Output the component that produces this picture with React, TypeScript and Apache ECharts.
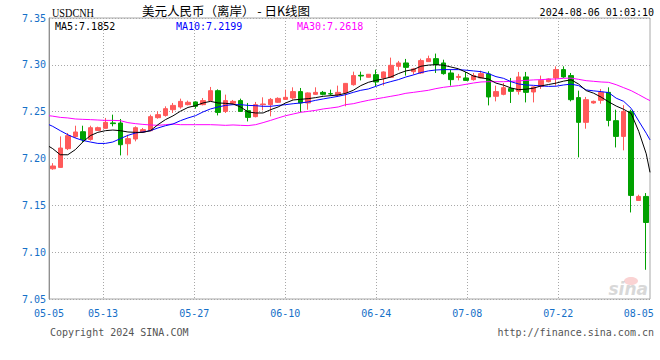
import React, { useEffect, useRef } from 'react';
import * as echarts from 'echarts';

const dates = [
  '05-05', '05-06', '05-07', '05-08', '05-09', '05-10',
  '05-12', '05-13', '05-14', '05-15', '05-16', '05-17',
  '05-19', '05-20', '05-21', '05-22', '05-23', '05-24',
  '05-26', '05-27', '05-28', '05-29', '05-30', '05-31',
  '06-02', '06-03', '06-04', '06-05', '06-06', '06-07',
  '06-09', '06-10', '06-11', '06-12', '06-13', '06-14',
  '06-16', '06-17', '06-18', '06-19', '06-20', '06-21',
  '06-23', '06-24', '06-25', '06-26', '06-27', '06-28',
  '06-30', '07-01', '07-02', '07-03', '07-04', '07-05',
  '07-07', '07-08', '07-09', '07-10', '07-11', '07-12',
  '07-14', '07-15', '07-16', '07-17', '07-18', '07-19',
  '07-21', '07-22', '07-23', '07-24', '07-25', '07-26',
  '07-28', '07-29', '07-30', '07-31', '08-01', '08-02',
  '08-04', '08-05',
];

const openP = [
  7.1890, 7.1905, 7.2105, 7.2233, 7.2286, 7.2204, 7.2300, 7.2322, 7.2380, 7.2379,
  7.2158, 7.2208, 7.2283, 7.2297, 7.2436, 7.2460, 7.2521, 7.2550, 7.2575, 7.2604,
  7.2575, 7.2618, 7.2724, 7.2503, 7.2589, 7.2618, 7.2511, 7.2447, 7.2575, 7.2575,
  7.2600, 7.2631, 7.2646, 7.2714, 7.2593, 7.2685, 7.2706, 7.2692, 7.2678, 7.2700,
  7.2788, 7.2888, 7.2867, 7.2895, 7.2860, 7.2867, 7.2984, 7.3020, 7.2927, 7.2913,
  7.3034, 7.3066, 7.3020, 7.2913, 7.2866, 7.2860, 7.2842, 7.2860, 7.2903, 7.2664,
  7.2685, 7.2746, 7.2717, 7.2871, 7.2710, 7.2770, 7.2820, 7.2860, 7.2949, 7.2885,
  7.2650, 7.2386, 7.2593, 7.2621, 7.2706, 7.2404, 7.2236, 7.2503, 7.1552, 7.1595,
];
const closeP = [
  7.1920, 7.2112, 7.2244, 7.2283, 7.2201, 7.2329, 7.2329, 7.2386, 7.2372, 7.2147,
  7.2212, 7.2329, 7.2308, 7.2447, 7.2468, 7.2532, 7.2567, 7.2610, 7.2600, 7.2557,
  7.2618, 7.2724, 7.2492, 7.2618, 7.2610, 7.2503, 7.2439, 7.2575, 7.2582, 7.2631,
  7.2642, 7.2653, 7.2714, 7.2593, 7.2700, 7.2706, 7.2685, 7.2689, 7.2706, 7.2802,
  7.2885, 7.2881, 7.2899, 7.2817, 7.2924, 7.2995, 7.3020, 7.2973, 7.2956, 7.3045,
  7.3066, 7.3002, 7.2906, 7.2842, 7.2876, 7.2834, 7.2885, 7.2906, 7.2657, 7.2714,
  7.2756, 7.2717, 7.2871, 7.2706, 7.2764, 7.2834, 7.2849, 7.2949, 7.2871, 7.2628,
  7.2386, 7.2628, 7.2610, 7.2706, 7.2407, 7.2236, 7.2503, 7.1606, 7.1595, 7.1317,
];
const lowP = [
  7.1880, 7.1900, 7.2090, 7.2220, 7.2176, 7.2190, 7.2295, 7.2320, 7.2343, 7.2033,
  7.2033, 7.2183, 7.2272, 7.2290, 7.2425, 7.2447, 7.2486, 7.2532, 7.2567, 7.2532,
  7.2567, 7.2610, 7.2460, 7.2486, 7.2582, 7.2497, 7.2396, 7.2439, 7.2514, 7.2450,
  7.2593, 7.2625, 7.2628, 7.2492, 7.2521, 7.2678, 7.2674, 7.2671, 7.2671, 7.2557,
  7.2778, 7.2834, 7.2865, 7.2770, 7.2778, 7.2860, 7.2941, 7.2885, 7.2895, 7.2903,
  7.3032, 7.2913, 7.2895, 7.2778, 7.2834, 7.2830, 7.2831, 7.2856, 7.2567, 7.2610,
  7.2675, 7.2593, 7.2682, 7.2599, 7.2599, 7.2743, 7.2813, 7.2778, 7.2860, 7.2610,
  7.2012, 7.2318, 7.2585, 7.2585, 7.2343, 7.2118, 7.2087, 7.1424, 7.1548, 7.0812,
];
const highP = [
  7.1950, 7.2236, 7.2272, 7.2350, 7.2350, 7.2350, 7.2340, 7.2433, 7.2468, 7.2422,
  7.2254, 7.2343, 7.2326, 7.2468, 7.2503, 7.2557, 7.2593, 7.2639, 7.2618, 7.2610,
  7.2646, 7.2764, 7.2738, 7.2682, 7.2625, 7.2639, 7.2593, 7.2604, 7.2653, 7.2646,
  7.2653, 7.2735, 7.2760, 7.2753, 7.2706, 7.2760, 7.2721, 7.2735, 7.2778, 7.2806,
  7.2927, 7.2927, 7.2902, 7.2949, 7.2930, 7.3077, 7.3042, 7.3063, 7.2967, 7.3066,
  7.3098, 7.3120, 7.3055, 7.2949, 7.2903, 7.2924, 7.2913, 7.2938, 7.2931, 7.2778,
  7.2806, 7.2860, 7.2924, 7.2924, 7.2771, 7.2885, 7.2856, 7.2984, 7.2984, 7.2913,
  7.2724, 7.2657, 7.2618, 7.2742, 7.2760, 7.2521, 7.2570, 7.2521, 7.1613, 7.1631,
];

// moving-average lines (one value per candle, plus the line's ends at the plot edges)
const ma5 = [
  7.2105, 7.2040, 7.2040, 7.2094, 7.2176, 7.2244, 7.2279, 7.2297, 7.2304, 7.2297,
  7.2283, 7.2279, 7.2279, 7.2297, 7.2361, 7.2415, 7.2455, 7.2505, 7.2545, 7.2564,
  7.2593, 7.2610, 7.2593, 7.2589, 7.2582, 7.2550, 7.2497, 7.2486, 7.2486, 7.2521,
  7.2550, 7.2593, 7.2625, 7.2632, 7.2639, 7.2650, 7.2664, 7.2671, 7.2678, 7.2696,
  7.2728, 7.2778, 7.2813, 7.2834, 7.2849, 7.2870, 7.2906, 7.2935, 7.2949, 7.2985,
  7.2997, 7.3002, 7.2996, 7.2977, 7.2958, 7.2921, 7.2880, 7.2862, 7.2848, 7.2805,
  7.2783, 7.2753, 7.2735, 7.2740, 7.2751, 7.2775, 7.2790, 7.2805, 7.2826, 7.2840,
  7.2795, 7.2725, 7.2697, 7.2655, 7.2605, 7.2560, 7.2525, 7.2480, 7.2290, 7.2050,
];
const ma5Ends = [7.2129, 7.1852];
const ma10 = [
  7.2343, 7.2297, 7.2254, 7.2219, 7.2193, 7.2176, 7.2161, 7.2161, 7.2176, 7.2212,
  7.2247, 7.2272, 7.2283, 7.2297, 7.2326, 7.2350, 7.2368, 7.2404, 7.2433, 7.2457,
  7.2497, 7.2529, 7.2550, 7.2567, 7.2575, 7.2575, 7.2567, 7.2564, 7.2557, 7.2557,
  7.2567, 7.2575, 7.2585, 7.2593, 7.2604, 7.2621, 7.2636, 7.2650, 7.2664, 7.2682,
  7.2706, 7.2728, 7.2742, 7.2770, 7.2799, 7.2821, 7.2842, 7.2870, 7.2892, 7.2917,
  7.2935, 7.2945, 7.2949, 7.2949, 7.2949, 7.2943, 7.2935, 7.2927, 7.2906, 7.2874,
  7.2856, 7.2820, 7.2796, 7.2785, 7.2781, 7.2775, 7.2770, 7.2772, 7.2785, 7.2794,
  7.2778, 7.2732, 7.2722, 7.2714, 7.2703, 7.2644, 7.2610, 7.2535, 7.2400, 7.2270,
];
const ma10Ends = [7.2361, 7.2199];
const ma30 = [
  7.2452, 7.2439, 7.2433, 7.2422, 7.2418, 7.2415, 7.2411, 7.2407, 7.2407, 7.2404,
  7.2383, 7.2372, 7.2364, 7.2358, 7.2354, 7.2361, 7.2368, 7.2361, 7.2361, 7.2361,
  7.2361, 7.2361, 7.2358, 7.2354, 7.2358, 7.2354, 7.2351, 7.2361, 7.2383, 7.2407,
  7.2433, 7.2457, 7.2475, 7.2493, 7.2503, 7.2514, 7.2529, 7.2539, 7.2550, 7.2575,
  7.2585, 7.2604, 7.2621, 7.2636, 7.2650, 7.2664, 7.2678, 7.2696, 7.2706, 7.2717,
  7.2728, 7.2746, 7.2760, 7.2770, 7.2778, 7.2792, 7.2806, 7.2817, 7.2820, 7.2820,
  7.2820, 7.2824, 7.2828, 7.2834, 7.2839, 7.2842, 7.2847, 7.2849, 7.2856, 7.2858,
  7.2845, 7.2831, 7.2824, 7.2817, 7.2813, 7.2788, 7.2756, 7.2724, 7.2682, 7.2638,
];
const ma30Ends = [7.2457, 7.2618];

// x-axis: where the dotted date lines sit (in candle widths from the left edge) and which date each label shows
const gridLinePos = [7.19, 19.34, 31.45, 43.57, 55.68, 67.79];
const labelPos = [0, 7.19, 19.34, 31.45, 43.57, 55.68, 67.79, 78.5];
const labelDateIdx = [0, 7, 19, 31, 43, 55, 67, 79];

const yTicks = { min: 7.05, max: 7.35, step: 0.05 };

const BLUE = '#1570c8';
const MONO = '"DejaVu Sans Mono", "Liberation Mono", monospace';

function lineData(vals: number[], ends: number[]) {
  const n = vals.length;
  return [[0, ends[0]], ...vals.map((v, i) => [i + 0.5, v]), [n, ends[1]]];
}

export default function App() {
  const ref = useRef<HTMLDivElement>(null);
  useEffect(() => {
    if (!ref.current) return;
    const chart = echarts.init(ref.current, null, { renderer: 'svg' });
    const n = dates.length;
    const candles = openP.map((o, i) => [o, closeP[i], lowP[i], highP[i]]);
    const dotted = { color: '#a8a8a8', type: [1, 2] as any, width: 1 };
    chart.setOption({
      animation: false,
      backgroundColor: '#ffffff',
      grid: {
        left: 49, top: 18, width: 601, height: 281,
        show: true, borderColor: '#a8a8a8', borderWidth: 1, backgroundColor: 'transparent',
      },
      xAxis: [
        {
          type: 'category', data: dates, boundaryGap: true, position: 'bottom',
          axisLine: { show: false }, axisTick: { show: false },
          axisLabel: { show: false }, splitLine: { show: false },
        },
        {
          type: 'value', min: 0, max: n, position: 'bottom',
          axisLine: { show: false },
          axisTick: { show: false, customValues: gridLinePos },
          axisLabel: {
            customValues: labelPos,
            formatter: (v: number) => {
              const k = labelPos.findIndex((p) => Math.abs(p - v) < 1e-6);
              return k >= 0 ? dates[labelDateIdx[k]] : '';
            },
            color: BLUE, fontFamily: MONO, fontSize: 10, margin: 9,
          },
          splitLine: { show: true, lineStyle: dotted },
        },
      ],
      yAxis: {
        type: 'value', min: yTicks.min, max: yTicks.max, interval: yTicks.step,
        axisLine: { show: true, lineStyle: { color: '#909090', width: 1 } },
        axisTick: { show: false },
        axisLabel: {
          formatter: (v: number) => v.toFixed(2),
          color: BLUE, fontFamily: MONO, fontSize: 10, margin: 3,
        },
        splitLine: { show: true, lineStyle: dotted },
      },
      series: [
        {
          type: 'candlestick', xAxisIndex: 0, yAxisIndex: 0, data: candles,
          barWidth: 5, z: 2,
          itemStyle: {
            color: '#ff5a5a', color0: '#00a100',
            borderColor: '#ff5a5a', borderColor0: '#00a100', borderWidth: 1,
          },
        },
        {
          type: 'line', xAxisIndex: 1, yAxisIndex: 0, data: lineData(ma30, ma30Ends),
          symbol: 'none', z: 3, lineStyle: { color: '#ff00ff', width: 1 },
        },
        {
          type: 'line', xAxisIndex: 1, yAxisIndex: 0, data: lineData(ma10, ma10Ends),
          symbol: 'none', z: 4, lineStyle: { color: '#0000ff', width: 1 },
        },
        {
          type: 'line', xAxisIndex: 1, yAxisIndex: 0, data: lineData(ma5, ma5Ends),
          symbol: 'none', z: 5, lineStyle: { color: '#000000', width: 1 },
        },
      ],
      graphic: [
        {
          type: 'text', x: 52, y: 13, scaleX: 0.85,
          style: { text: 'USDCNH', fontFamily: '"Liberation Serif", serif', fontSize: 12, fill: '#000', verticalAlign: 'middle' },
        },
        {
          type: 'text', x: 142, y: 10,
          style: { text: '美元人民币（离岸） - 日K线图', fontFamily: '"Noto Sans CJK SC", sans-serif', fontSize: 12.5, fill: '#000', verticalAlign: 'middle' },
        },
        {
          type: 'text', x: 654, y: 12,
          style: { text: '2024-08-06 01:03:10', fontFamily: MONO, fontSize: 10, fill: '#000', align: 'right', verticalAlign: 'middle' },
        },
        {
          type: 'text', x: 55, y: 26,
          style: { text: 'MA5:' + ma5Ends[1].toFixed(4), fontFamily: MONO, fontSize: 10, fill: '#000', verticalAlign: 'middle' },
        },
        {
          type: 'text', x: 176, y: 26,
          style: { text: 'MA10:' + ma10Ends[1].toFixed(4), fontFamily: MONO, fontSize: 10, fill: '#0000ff', verticalAlign: 'middle' },
        },
        {
          type: 'text', x: 297, y: 26,
          style: { text: 'MA30:' + ma30Ends[1].toFixed(4), fontFamily: MONO, fontSize: 10, fill: '#ff00ff', verticalAlign: 'middle' },
        },
        {
          type: 'text', x: 50, y: 332,
          style: { text: 'Copyright 2024 SINA.COM', fontFamily: MONO, fontSize: 10, fill: '#555', verticalAlign: 'middle' },
        },
        {
          type: 'text', x: 654, y: 332,
          style: { text: 'http://finance.sina.com.cn', fontFamily: MONO, fontSize: 10, fill: '#555', align: 'right', verticalAlign: 'middle' },
        },
        {
          type: 'ellipse', shape: { cx: 631, cy: 281, rx: 7, ry: 4 }, z: 1,
          style: { fill: 'rgba(240,130,130,0.35)' },
        },
        {
          type: 'text', x: 648, y: 297, z: 1,
          style: { text: 'sina', fontFamily: '"DejaVu Sans", sans-serif', fontStyle: 'italic', fontWeight: 'bold', fontSize: 17, fill: 'rgba(190,190,190,0.6)', align: 'right', verticalAlign: 'bottom' },
        },
      ],
    });
    return () => chart.dispose();
  }, []);
  return (
    <div
      ref={ref}
      style={{ position: 'fixed', left: 0, top: 0, width: 660, height: 360, background: '#fff' }}
    />
  );
}
